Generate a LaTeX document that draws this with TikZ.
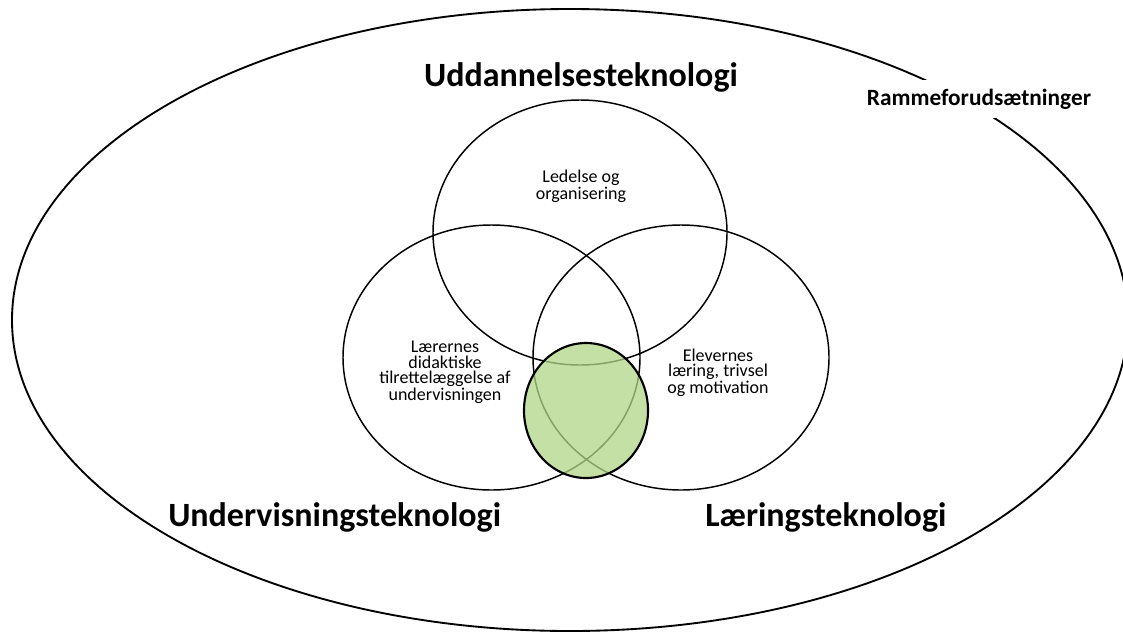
\documentclass[tikz,border=0pt]{standalone}
\usepackage{fontspec}
\setmainfont{Carlito}
\usetikzlibrary{shapes.geometric}
\definecolor{venngreen}{RGB}{178,214,134}
\begin{document}
\begin{tikzpicture}[x=0.75pt,y=-0.75pt,
    ring/.style={ellipse, draw, line width=1.1pt, inner sep=0pt},
    title/.style={font=\fontsize{25.5}{30}\selectfont\bfseries, inner sep=0pt},
    area/.style={font=\fontsize{13.5}{11.5}\selectfont, align=center, inner sep=0pt}]
    \useasboundingbox (0,0) rectangle (1123,632);

    \node[ring, line width=1.4pt, minimum width=837pt, minimum height=466.5pt] (frame) at (570,320) {};

    \node[ring, minimum width=220.5pt, minimum height=198.75pt] (ledelse) at (580,232.5) {};
    \node[ring, minimum width=222.75pt, minimum height=198.75pt] (laerer) at (491.5,357.5) {};
    \node[ring, minimum width=222pt, minimum height=198.75pt] (elev) at (681,357.5) {};
    \node[ring, line width=1.6pt, fill=venngreen, fill opacity=.75, draw opacity=1,
          minimum width=93pt, minimum height=101.25pt] (kerne) at (586,410.5) {};

%   labels
    \node[title, anchor=base] (uddannelse) at (581,86) {Uddannelsesteknologi};
    \node[title, anchor=base west] (undervisning) at (168,526) {Undervisningsteknologi};
    \node[title, anchor=base west] (laering) at (705,526) {Læringsteknologi};

    \node[area] (ledelsetxt) at (581,186) {Ledelse og\\organisering};
    \node[area] (laerertxt) at (445,372.5) {Lærernes\\didaktiske\\tilrettelæggelse af\\undervisningen};
    \node[area] (elevtxt) at (718,373) {Elevernes\\læring, trivsel\\og motivation};

    \node[font=\fontsize{17.5}{21}\selectfont\bfseries, fill=white, inner sep=0pt,
          minimum height=28.5pt] (ramme) at (979,99) {Rammeforudsætninger};
\end{tikzpicture}
\end{document}
